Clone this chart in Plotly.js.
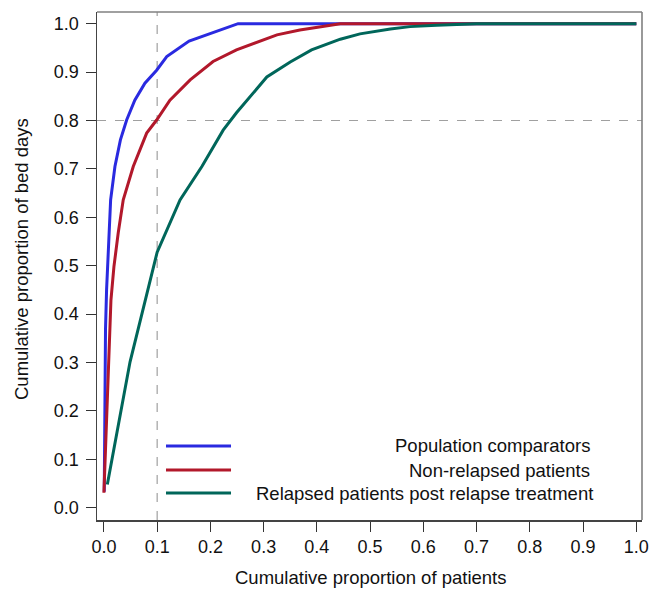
<!DOCTYPE html>
<html>
<head>
<meta charset="utf-8">
<script src="https://cdn.plot.ly/plotly-3.0.1.min.js"></script>
<style>html,body{margin:0;padding:0;background:#fff;}#chart{width:660px;height:589px;}</style>
</head>
<body>
<div id="chart"></div>
<script>
// ---- data ----
var seriesNames = ["Population comparators", "Non-relapsed patients", "Relapsed patients post relapse treatment"];
var seriesColors = ["#2a2ae0", "#b2182b", "#00665a"];

var popX = [0.0006, 0.003, 0.005, 0.008, 0.0126, 0.0207, 0.031, 0.0427, 0.058, 0.077, 0.099, 0.118, 0.160, 0.252, 1.0];
var popY = [0.033, 0.37, 0.45, 0.533, 0.636, 0.705, 0.760, 0.801, 0.842, 0.877, 0.904, 0.932, 0.964, 1.0, 1.0];

var nonX = [0.000, 0.0132, 0.0188, 0.0269, 0.0363, 0.0551, 0.0803, 0.099, 0.124, 0.162, 0.205, 0.249, 0.325, 0.368, 0.444, 1.0];
var nonY = [0.031, 0.429, 0.498, 0.568, 0.636, 0.705, 0.774, 0.801, 0.842, 0.884, 0.922, 0.946, 0.977, 0.987, 1.0, 1.0];

var relX = [0.0064, 0.049, 0.100, 0.118, 0.143, 0.184, 0.224, 0.249, 0.306, 0.350, 0.390, 0.444, 0.481, 0.538, 0.575, 0.625, 0.70, 1.0];
var relY = [0.048, 0.301, 0.528, 0.574, 0.636, 0.705, 0.780, 0.816, 0.890, 0.921, 0.946, 0.968, 0.979, 0.989, 0.994, 0.997, 1.0, 1.0];

var tickVals = [0.0, 0.1, 0.2, 0.3, 0.4, 0.5, 0.6, 0.7, 0.8, 0.9, 1.0];
var tickText = ["0.0", "0.1", "0.2", "0.3", "0.4", "0.5", "0.6", "0.7", "0.8", "0.9", "1.0"];
var refX = 0.1;
var refY = 0.8;

var xTitle = "Cumulative proportion of patients";
var yTitle = "Cumulative proportion of bed days";

// ---- chart ----
var font = "Liberation Sans, Arial, sans-serif";
var xs = [popX, nonX, relX];
var ys = [popY, nonY, relY];
var traces = xs.map(function (x, i) {
  return {
    x: x, y: ys[i], type: "scatter", mode: "lines", name: seriesNames[i],
    line: {color: seriesColors[i], width: 3}, showlegend: false, hoverinfo: "skip"
  };
});

var shapes = [
  {type: "line", xref: "x", yref: "paper", x0: refX, x1: refX, y0: 0, y1: 1,
   line: {color: "#a0a0a0", width: 1.2, dash: "dash"}, layer: "below"},
  {type: "line", xref: "paper", yref: "y", x0: 0, x1: 1, y0: refY, y1: refY,
   line: {color: "#a0a0a0", width: 1.2, dash: "dash"}, layer: "below"},
  {type: "line", xref: "paper", yref: "paper", x0: 0, x1: 1, y0: 1, y1: 1,
   line: {color: "#808080", width: 1.6}},
  {type: "line", xref: "paper", yref: "paper", x0: 1, x1: 1, y0: 0, y1: 1,
   line: {color: "#808080", width: 1.6}}
];
var annotations = [
  {xref: "paper", yref: "paper", x: 0.501, y: -0.114, xanchor: "center", yanchor: "middle",
   text: xTitle, showarrow: false, font: {family: font, size: 18.5, color: "#111"}},
  {xref: "paper", yref: "paper", x: 0, y: 0.5138, xshift: -75, xanchor: "center", yanchor: "middle",
   textangle: -90, text: yTitle, showarrow: false, font: {family: font, size: 18.5, color: "#111"}}
];
var legRowsY = [0.1457, 0.0984, 0.0531];
var legTextX = [0.9083, 0.9083, 0.9138];
seriesNames.forEach(function (n, i) {
  shapes.push({type: "line", xref: "paper", yref: "paper", x0: 0.1266, x1: 0.2459,
    y0: legRowsY[i], y1: legRowsY[i], line: {color: seriesColors[i], width: 3}});
  annotations.push({xref: "paper", yref: "paper", x: legTextX[i], y: legRowsY[i],
    xanchor: "right", yanchor: "middle", text: n, showarrow: false,
    font: {family: font, size: 18.5, color: "#111"}});
});

var layout = {
  width: 660, height: 589,
  margin: {l: 97, r: 18, t: 12, b: 69},
  paper_bgcolor: "#fff", plot_bgcolor: "#fff",
  font: {family: font, size: 18, color: "#111"},
  showlegend: false,
  xaxis: {
    range: [-0.013, 1.0107], tickvals: tickVals, ticktext: tickText,
    ticks: "outside", ticklen: 10, tickwidth: 1, tickcolor: "#333",
    showgrid: false, zeroline: false, showline: true, linecolor: "#444", linewidth: 1.5
  },
  yaxis: {
    range: [-0.0254, 1.0242], tickvals: tickVals, ticktext: tickText,
    ticks: "outside", ticklen: 10, tickwidth: 1, tickcolor: "#333", ticklabelstandoff: 3,
    showgrid: false, zeroline: false, showline: true, linecolor: "#444", linewidth: 1.5
  },
  shapes: shapes,
  annotations: annotations
};

Plotly.newPlot("chart", traces, layout, {staticPlot: true, displayModeBar: false});
</script>
</body>
</html>
